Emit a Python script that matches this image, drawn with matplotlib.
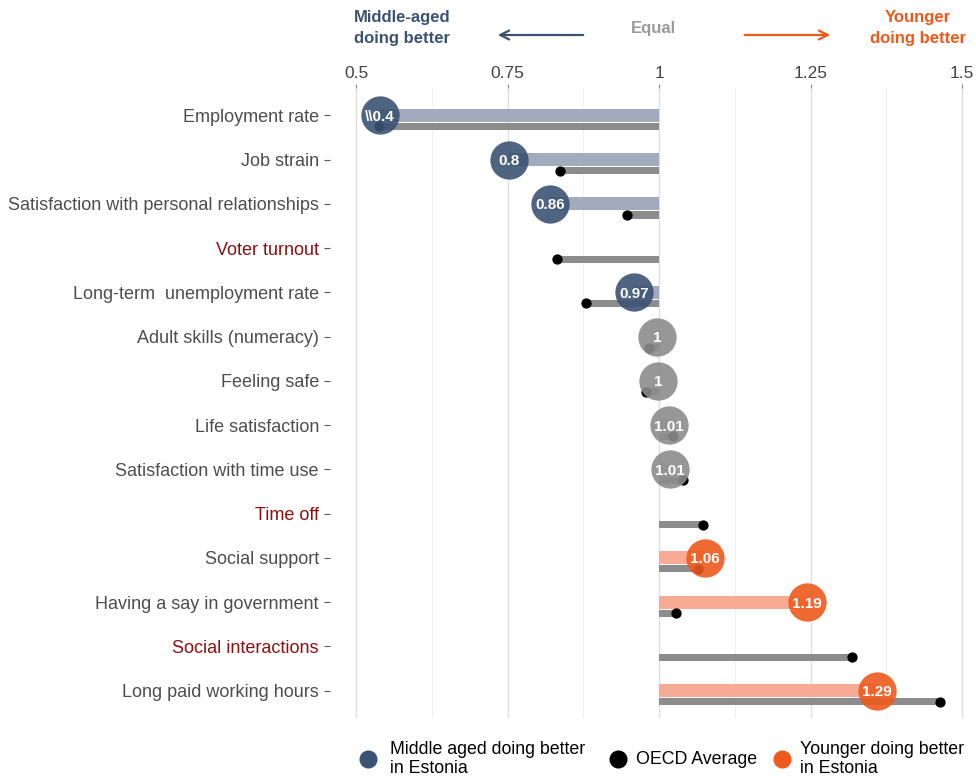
import matplotlib.pyplot as plt
from matplotlib.lines import Line2D

plt.rcParams['font.family'] = ['Liberation Sans', 'DejaVu Sans']

categories = ["Employment rate", "Job strain", "Satisfaction with personal relationships",
              "Voter turnout", "Long-term  unemployment rate", "Adult skills (numeracy)",
              "Feeling safe", "Life satisfaction", "Satisfaction with time use", "Time off",
              "Social support", "Having a say in government", "Social interactions",
              "Long paid working hours"]
# position of the Estonia marker (None = no data)
estonia = [0.539, 0.753, 0.820, None, 0.959, 0.997, 0.998, 1.016, 1.018, None,
           1.076, 1.244, None, 1.360]
labels = ["\\\\0.4", "0.8", "0.86", "", "0.97", "1", "1", "1.01", "1.01", "",
          "1.06", "1.19", "", "1.29"]
group = ["mid", "mid", "mid", None, "mid", "eq", "eq", "eq", "eq", None,
         "young", "young", None, "young"]
oecd = [0.538, 0.837, 0.947, 0.831, 0.879, 0.984, 0.979, 1.023, 1.040, 1.073,
        1.064, 1.028, 1.318, 1.464]
red_rows = ["Voter turnout", "Time off", "Social interactions"]

dark = {"mid": "#3b5372", "eq": "#8c8c8c", "young": "#ee5a1c"}
light = {"mid": "#a1abbb", "eq": "#c8c8c8", "young": "#f8ab94"}

fig = plt.figure(figsize=(9.76, 7.80), dpi=100)
ax = fig.add_axes([330 / 976, 1 - 718 / 780, 1 - 330 / 976, (718 - 88) / 780])

for i in range(len(categories)):
    ax.barh(i + 0.25, oecd[i] - 1, left=1, height=0.16, color="#8c8c8c", zorder=2)
    ax.scatter(oecd[i], i + 0.25, s=55, color="black", zorder=3, linewidths=0)
    if estonia[i] is not None:
        g = group[i]
        ax.barh(i, estonia[i] - 1, left=1, height=0.29, color=light[g], zorder=2)
        ax.scatter(estonia[i], i, s=760, color=dark[g], alpha=0.9, zorder=4, linewidths=0)
        ax.text(estonia[i], i, labels[i], color="white", fontsize=11, fontweight="bold",
                ha="center", va="center_baseline", zorder=5)

ax.set_xlim(0.457, 1.523)
ax.set_ylim(13.62, -0.62)
ax.set_xticks([0.5, 0.75, 1, 1.25, 1.5])
ax.set_xticklabels(["0.5", "0.75", "1", "1.25", "1.5"])
ax.set_xticks([0.625, 0.875, 1.125, 1.375], minor=True)
ax.xaxis.tick_top()
ax.tick_params(axis="x", which="major", length=3, color="#888888", labelsize=12.5,
               labelcolor="#444444", pad=2)
ax.tick_params(axis="x", which="minor", length=0)
ax.set_yticks(range(len(categories)))
ax.set_yticklabels(categories)
ax.tick_params(axis="y", length=4, color="#555555", labelsize=13, pad=4)
for t in ax.get_yticklabels():
    t.set_color("#8b1010" if t.get_text() in red_rows else "#4d4d4d")
ax.grid(axis="x", which="major", color="#dedede", lw=1.0, zorder=0)
ax.grid(axis="x", which="minor", color="#efefef", lw=0.8, zorder=0)
for s in ax.spines.values():
    s.set_visible(False)

# header
fig.text(402 / 976, 1 - 28 / 780, "Middle-aged\ndoing better", ha="center", va="center",
         fontsize=12, fontweight="bold", color="#3b5372", linespacing=1.45)
fig.text(653 / 976, 1 - 28 / 780, "Equal", ha="center", va="center",
         fontsize=12, fontweight="bold", color="#9a9a9a")
fig.text(918 / 976, 1 - 28 / 780, "Younger\ndoing better", ha="center", va="center",
         fontsize=12, fontweight="bold", color="#ee5a1c", linespacing=1.45)
ax.annotate("", xy=(495 / 976, 1 - 35 / 780), xytext=(586 / 976, 1 - 35 / 780),
            xycoords="figure fraction", textcoords="figure fraction",
            arrowprops=dict(arrowstyle="->", color="#3b5372", lw=1.6, mutation_scale=16))
ax.annotate("", xy=(833 / 976, 1 - 35 / 780), xytext=(742 / 976, 1 - 35 / 780),
            xycoords="figure fraction", textcoords="figure fraction",
            arrowprops=dict(arrowstyle="->", color="#ee5a1c", lw=1.6, mutation_scale=16))

# legend, laid out by hand to match the uneven key spacing
legend_items = [("Middle aged doing better\nin Estonia", "#3b5372", 368, 390),
                ("OECD Average", "black", 618, 636),
                ("Younger doing better\nin Estonia", "#ee5a1c", 782, 800)]
for text, col, mx, tx in legend_items:
    fig.add_artist(Line2D([mx / 976], [1 - 759 / 780], marker="o", ls="", color=col,
                          markersize=12, transform=fig.transFigure))
    fig.text(tx / 976, 1 - 759 / 780, text, ha="left", va="center", fontsize=12.8,
             color="black", linespacing=1.12)

fig.savefig("out.png", dpi=100)
